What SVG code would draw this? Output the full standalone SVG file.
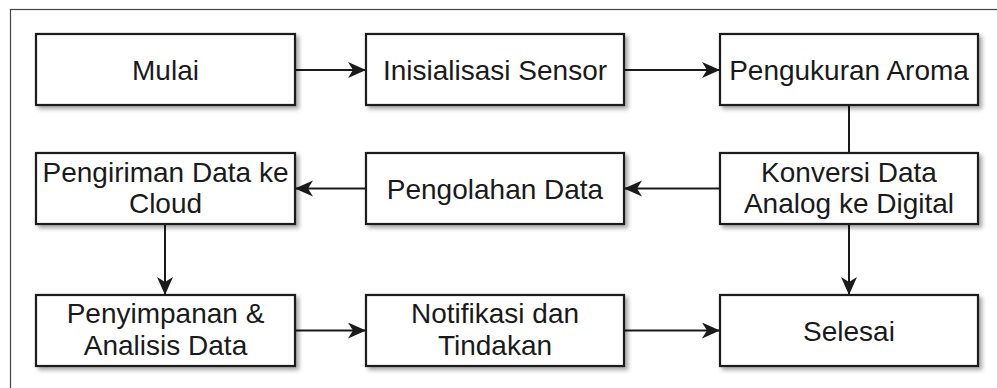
<svg xmlns="http://www.w3.org/2000/svg" width="997" height="388" viewBox="0 0 997 388">
<style>
.box{fill:#fff;stroke:#1a1a1a;stroke-width:2.2;filter:url(#sh)}
.t{font-family:"Liberation Sans",Arial,sans-serif;font-size:28px;fill:#1a1a1a;text-anchor:middle}
.c{fill:none;stroke:#1a1a1a;stroke-width:2}
</style>
<defs>
<filter id="sh" x="-10%" y="-20%" width="130%" height="150%">
<feDropShadow dx="3" dy="3" stdDeviation="2" flood-color="#000" flood-opacity="0.35"/>
</filter>
<marker id="ar" markerUnits="userSpaceOnUse" markerWidth="20" markerHeight="18" refX="18" refY="8" orient="auto">
<path d="M0,0 L18,8 L0,16 L5,8 Z" fill="#1a1a1a"/>
</marker>
</defs>
<rect width="997" height="388" fill="#fff"/>
<rect x="10.5" y="9.5" width="1000" height="400" fill="none" stroke="#444" stroke-width="1.2"/>
<g id="connectors">
<line class="c" x1="295" y1="70" x2="366" y2="70" marker-end="url(#ar)"/>
<line class="c" x1="624" y1="70" x2="720" y2="70" marker-end="url(#ar)"/>
<line class="c" x1="849" y1="105" x2="849" y2="153"/>
<line class="c" x1="720" y1="188.5" x2="624" y2="188.5" marker-end="url(#ar)"/>
<line class="c" x1="366" y1="188.5" x2="295" y2="188.5" marker-end="url(#ar)"/>
<line class="c" x1="165" y1="224" x2="165" y2="295" marker-end="url(#ar)"/>
<line class="c" x1="849" y1="224" x2="849" y2="295" marker-end="url(#ar)"/>
<line class="c" x1="295" y1="330.5" x2="366" y2="330.5" marker-end="url(#ar)"/>
<line class="c" x1="624" y1="330.5" x2="720" y2="330.5" marker-end="url(#ar)"/>
</g>
<g id="mulai"><rect class="box" x="36" y="34" width="259" height="71"/><text class="t" x="165.5" y="79.5">Mulai</text></g>
<g id="inisialisasi"><rect class="box" x="366" y="34" width="258" height="71"/><text class="t" x="495" y="79.5">Inisialisasi Sensor</text></g>
<g id="pengukuran"><rect class="box" x="720" y="34" width="258" height="71"/><text class="t" x="849" y="79.5">Pengukuran Aroma</text></g>
<g id="pengiriman"><rect class="box" x="36" y="153" width="259" height="71"/><text class="t" x="165.5" y="181.5">Pengiriman Data ke</text><text class="t" x="165.5" y="213">Cloud</text></g>
<g id="pengolahan"><rect class="box" x="366" y="153" width="258" height="71"/><text class="t" x="495" y="198.5">Pengolahan Data</text></g>
<g id="konversi"><rect class="box" x="720" y="153" width="258" height="71"/><text class="t" x="849" y="181.5">Konversi Data</text><text class="t" x="849" y="213">Analog ke Digital</text></g>
<g id="penyimpanan"><rect class="box" x="36" y="295" width="259" height="71"/><text class="t" x="165.5" y="323">Penyimpanan &amp;</text><text class="t" x="165.5" y="354.5">Analisis Data</text></g>
<g id="notifikasi"><rect class="box" x="366" y="295" width="258" height="71"/><text class="t" x="495" y="323">Notifikasi dan</text><text class="t" x="495" y="354.5">Tindakan</text></g>
<g id="selesai"><rect class="box" x="720" y="295" width="258" height="71"/><text class="t" x="849" y="340.5">Selesai</text></g>
</svg>
